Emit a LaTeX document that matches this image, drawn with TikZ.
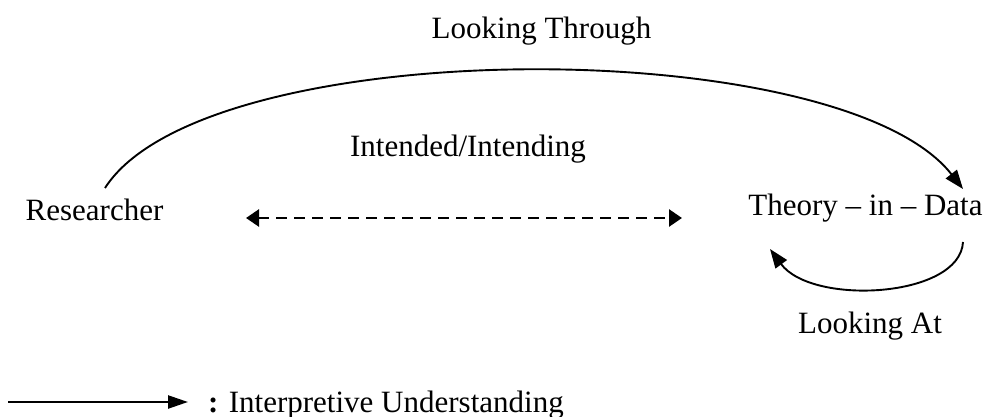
\documentclass[tikz,border=0pt]{standalone}
\usepackage{fontspec}
\setmainfont{Liberation Serif}
\usetikzlibrary{arrows.meta}
\tikzset{
  lbl/.style={anchor=base, inner sep=0pt, font=\fontsize{31}{37}\selectfont},
  conn/.style={line width=1.9pt, -{Triangle[length=19pt,width=14pt]}},
  dashconn/.style={line width=2.6pt, dash pattern=on 11pt off 7pt,
    {Triangle[length=13pt,width=17pt]}-{Triangle[length=13pt,width=17pt]}},
}
\begin{document}
\begin{tikzpicture}[x=1pt,y=-1pt]
\useasboundingbox (0,0) rectangle (987,417);
\node[lbl] (through) at (541.5,39) {Looking Through};
\node[lbl] (intend) at (468,157) {Intended/Intending};
\node[lbl] (res) at (94.5,220) {Researcher};
\node[lbl] (tid) at (865.5,215) {Theory -- in -- Data};
\node[lbl] (at) at (870,333) {Looking At};
\node[lbl, anchor=base west] (legend) at (208,412) {\textbf{:} Interpretive Understanding};

\coordinate (a1) at (105,188);
\coordinate (a2) at (963,189);
\coordinate (b1) at (963,242);
\coordinate (b2) at (770,249);
\coordinate (d1) at (246,218);
\coordinate (d2) at (682,218);
\coordinate (l1) at (8,402);
\coordinate (l2) at (188,402);

\draw[conn] (a1) .. controls (205,32) and (840,32) .. (a2);
\draw[conn] (b1) .. controls (960,298) and (812,306) .. (b2);
\draw[dashconn] (d1) -- (d2);
\draw[conn, line width=2.4pt, -{Triangle[length=20pt,width=13pt]}] (l1) -- (l2);
\end{tikzpicture}
\end{document}
